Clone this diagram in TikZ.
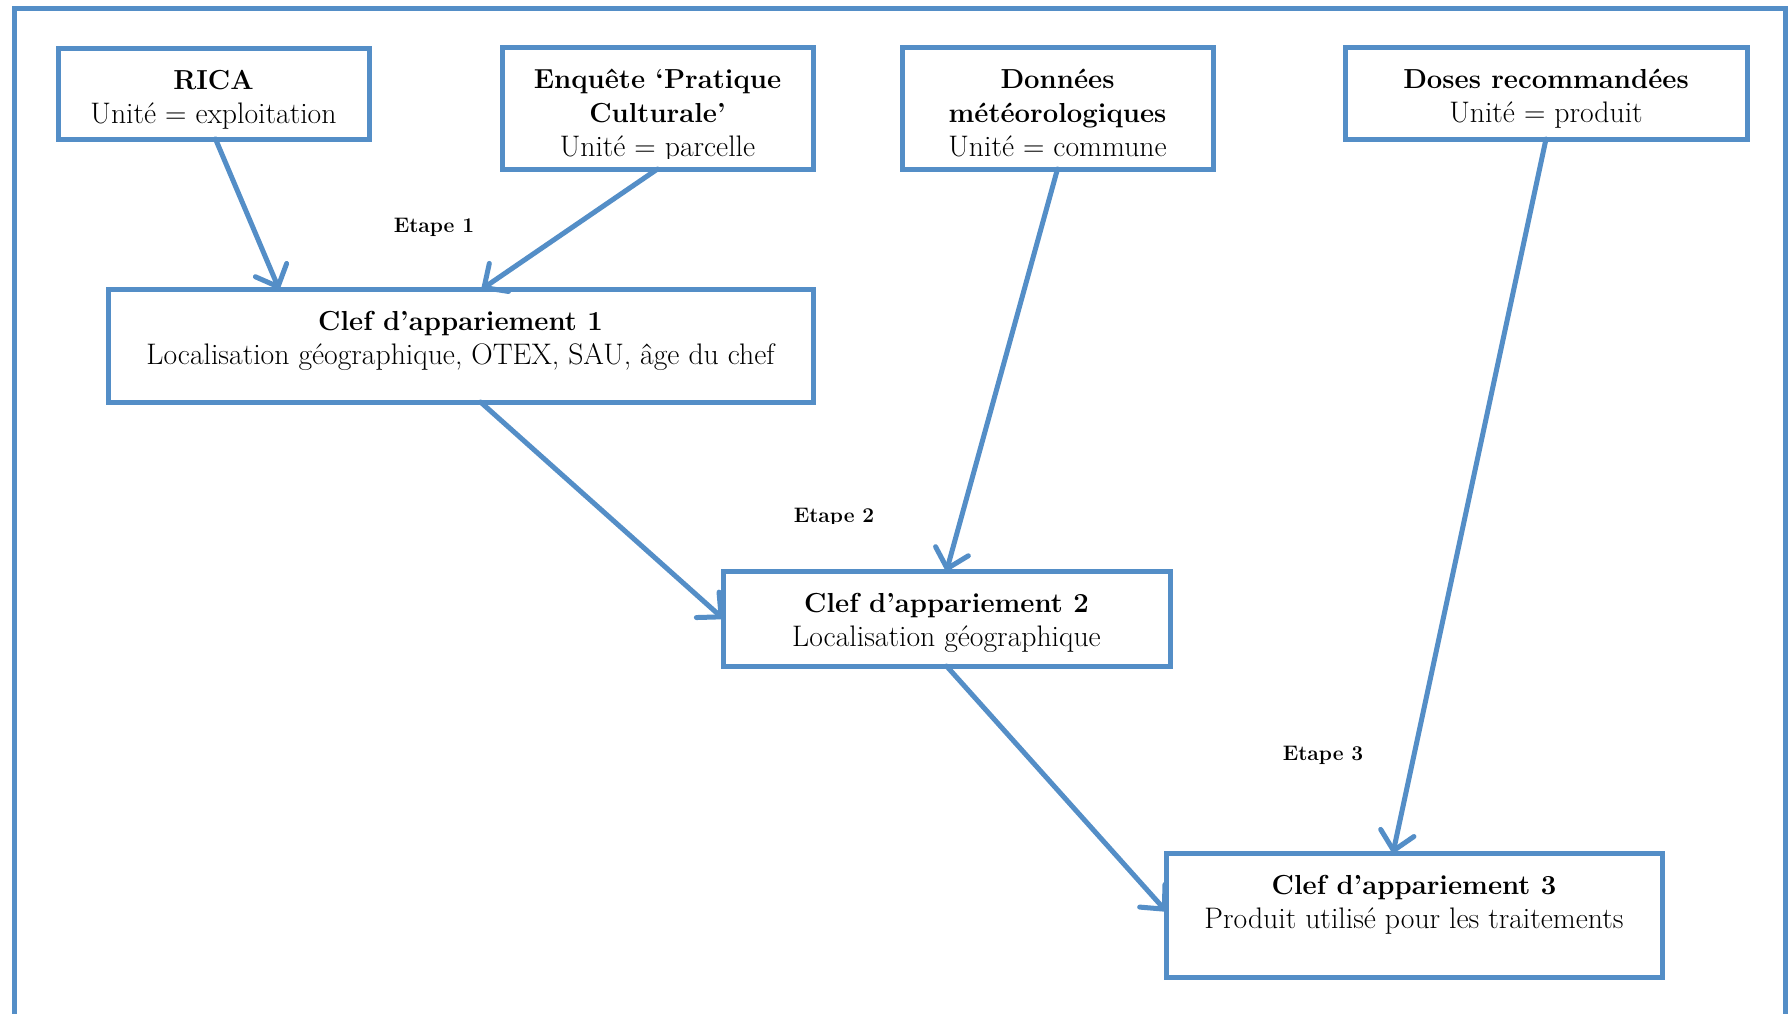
\documentclass[tikz,border=0pt]{standalone}
\usetikzlibrary{arrows.meta,calc}
\definecolor{frameblue}{RGB}{84,142,199}
\begin{document}
\begin{tikzpicture}[x=1pt,y=-1pt,
  box/.style={draw=frameblue,line width=5pt,rectangle,inner sep=0pt,outer sep=0pt,anchor=north west},
  txt/.style={align=center,inner sep=0pt,anchor=north,font=\fontsize{29.7}{34}\selectfont},
  etape/.style={inner sep=0pt,anchor=base,font=\fontsize{21}{24}\selectfont\bfseries},
  conn/.style={draw=frameblue,line width=5pt,line cap=round,-{Straight Barb[length=18pt,width=34pt,line cap=round,line join=round]}}]
\useasboundingbox (0,0) rectangle (1791,1013);
\fill[white] (0,0) rectangle (1791,1013);
\draw[frameblue,line width=5pt] (14,1030) -- (14,8) -- (1785,8) -- (1785,1030);

% boxes
\node[box,minimum width=311pt,minimum height=91pt] (rica) at (58,48) {};
\node[box,minimum width=311pt,minimum height=122pt] (enq) at (502,47) {};
\node[box,minimum width=311pt,minimum height=122pt] (don) at (902,47) {};
\node[box,minimum width=402pt,minimum height=92pt] (doses) at (1345,47) {};
\node[box,minimum width=705pt,minimum height=113pt] (clef1) at (108,289) {};
\node[box,minimum width=447pt,minimum height=95pt] (clef2) at (723,571) {};
\node[box,minimum width=496pt,minimum height=124pt] (clef3) at (1166,853) {};

% texts
\node[txt] (ricat) at ($(rica.north)+(0,17.5)$) {{\bfseries\fontsize{27.5}{34}\selectfont RICA}\strut\\ Unité = exploitation\strut};
\begin{scope}
\clip (505,50) rectangle (810,158);
\node[txt] (enqt) at ($(enq.north)+(0,17.5)$) {{\bfseries\fontsize{27.5}{34}\selectfont Enquête ‘Pratique}\strut\\ {\bfseries\fontsize{27.5}{34}\selectfont Culturale’}\strut\\ Unité = parcelle\strut};
\end{scope}
\node[txt] (dont) at ($(don.north)+(0,17.5)$) {{\bfseries\fontsize{27.5}{34}\selectfont Données}\strut\\ {\bfseries\fontsize{27.5}{34}\selectfont météorologiques}\strut\\ Unité = commune\strut};
\node[txt] (dosest) at ($(doses.north)+(0,17.5)$) {{\bfseries\fontsize{27.5}{34}\selectfont Doses recommandées}\strut\\ Unité = produit\strut};
\node[txt] (clef1t) at ($(clef1.north)+(0,17.5)$) {{\bfseries\fontsize{27.5}{34}\selectfont Clef d’appariement 1}\strut\\ Localisation géographique, OTEX, SAU, âge du chef\strut};
\node[txt] (clef2t) at ($(clef2.north)+(0,17.5)$) {{\bfseries\fontsize{27.5}{34}\selectfont Clef d’appariement 2}\strut\\ Localisation géographique\strut};
\node[txt] (clef3t) at ($(clef3.north)+(0,17.5)$) {{\bfseries\fontsize{27.5}{34}\selectfont Clef d’appariement 3}\strut\\ Produit utilisé pour les traitements\strut};

% step labels
\node[etape] (e1) at (434,232) {Etape 1};
\begin{scope}
\clip (770,490) rectangle (900,523);
\node[etape] (e2) at (834,522) {Etape 2};
\end{scope}
\node[etape] (e3) at (1323,760) {Etape 3};

% connectors
\draw[conn] ($(rica.south)+(2,0)$) -- ($(clef1.north west)+(171,0)$);
\draw[conn] (enq.south) -- ($(clef1.north west)+(374,0)$);
\draw[conn] ($(clef1.south)+(20,0)$) -- (clef2.west);
\draw[conn] (don.south) -- (clef2.north);
\draw[conn] (clef2.south) -- ($(clef3.west)+(0,-4)$);
\draw[conn] (doses.south) -- ($(clef3.north)+(-21,0)$);
\end{tikzpicture}
\end{document}
